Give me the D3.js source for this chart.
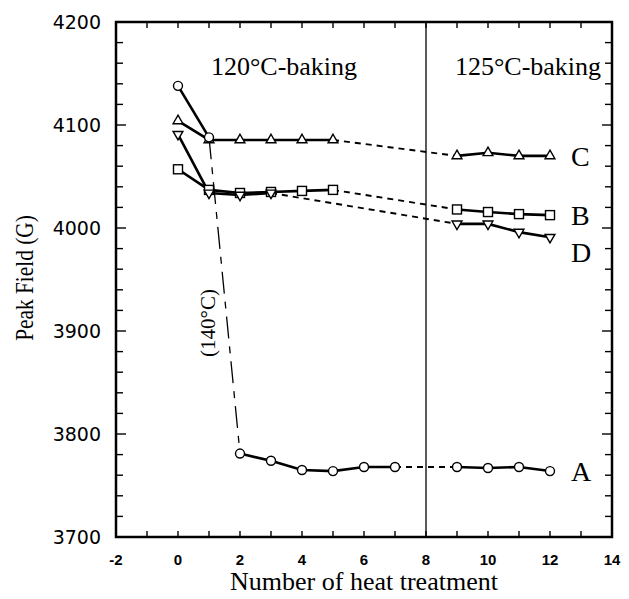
<!DOCTYPE html>
<html>
<head>
<meta charset="utf-8">
<script src="https://cdn.jsdelivr.net/npm/d3@7"></script>
<style>
  html, body { margin: 0; padding: 0; background: #fff; }
  svg { display: block; }
</style>
</head>
<body>
<svg id="chart" width="629" height="599"></svg>
<script>
// heat treatment index for each series
const xA = [0, 1, 2, 3, 4, 5, 6, 7, 9, 10, 11, 12]
const yA = [4138, 4088, 3781, 3774, 3765, 3764, 3768, 3768, 3768, 3767, 3768, 3764]
const xB = [0, 1, 2, 3, 4, 5, 9, 10, 11, 12]
const yB = [4057, 4037, 4034, 4035, 4036, 4037, 4018, 4015.5, 4013.5, 4012.5]
const xC = [0, 1, 2, 3, 4, 5, 9, 10, 11, 12]
const yC = [4104, 4085.5, 4085.5, 4085.5, 4085.5, 4085.5, 4070, 4073, 4070, 4070]
const xD = [0, 1, 2, 3, 9, 10, 11, 12]
const yD = [4091, 4034, 4032, 4034, 4004, 4004, 3996, 3991]

const xTicks = [-2, 0, 2, 4, 6, 8, 10, 12, 14]
const yTicks = [3700, 3800, 3900, 4000, 4100, 4200]

const svg = d3.select('#chart')
const margin = { left: 116, right: 17, top: 22, bottom: 62 }
const W = 629, H = 599

const x = d3.scaleLinear().domain([-2, 14]).range([margin.left, W - margin.right])
const y = d3.scaleLinear().domain([3700, 4200]).range([H - margin.bottom, margin.top])

const serif = 'Liberation Serif, Times New Roman, serif'
const sans = 'DejaVu Sans, Verdana, sans-serif'

// 枠内の目盛り（内向き）
const tickLen = 6
const g = svg.append('g')

const minorX = d3.range(-1, 14, 1)
minorX.forEach(v => {
  g.append('line').attr('x1', x(v)).attr('x2', x(v))
    .attr('y1', y(3700)).attr('y2', y(3700) - tickLen)
    .attr('stroke', '#000').attr('stroke-width', 1.4)
  g.append('line').attr('x1', x(v)).attr('x2', x(v))
    .attr('y1', y(4200)).attr('y2', y(4200) + tickLen)
    .attr('stroke', '#000').attr('stroke-width', 1.4)
})
const minorY = d3.range(3720, 4200, 20)
minorY.forEach(v => {
  const major = v % 100 === 0
  const len = major ? 10 : 7
  g.append('line').attr('x1', x(-2)).attr('x2', x(-2) + len)
    .attr('y1', y(v)).attr('y2', y(v))
    .attr('stroke', '#000').attr('stroke-width', 1.4)
  g.append('line').attr('x1', x(14)).attr('x2', x(14) - len)
    .attr('y1', y(v)).attr('y2', y(v))
    .attr('stroke', '#000').attr('stroke-width', 1.4)
})

// frame
svg.append('rect')
  .attr('x', x(-2)).attr('y', y(4200))
  .attr('width', x(14) - x(-2)).attr('height', y(3700) - y(4200))
  .attr('fill', 'none').attr('stroke', '#000').attr('stroke-width', 2.5)

// 120°C / 125°C 境界線
svg.append('line')
  .attr('x1', x(8)).attr('x2', x(8))
  .attr('y1', y(4200)).attr('y2', y(3700))
  .attr('stroke', '#000').attr('stroke-width', 1.3)

// tick labels
svg.append('g').selectAll('text').data(xTicks).enter().append('text')
  .attr('x', d => x(d)).attr('y', y(3700) + 28)
  .attr('text-anchor', 'middle')
  .attr('font-family', 'Liberation Sans, Arial, sans-serif')
  .attr('font-weight', 'bold').attr('font-size', 15)
  .text(d => String(d))

svg.append('g').selectAll('text').data(yTicks).enter().append('text')
  .attr('x', x(-2) - 15).attr('y', d => y(d))
  .attr('dy', '0.36em')
  .attr('text-anchor', 'end')
  .attr('font-family', sans).attr('font-size', 19)
  .text(d => String(d))

// axis titles
svg.append('text')
  .attr('x', (x(-2) + x(14)) / 2).attr('y', 590)
  .attr('text-anchor', 'middle')
  .attr('font-family', serif).attr('font-size', 26)
  .text('Number of heat treatment')

svg.append('text')
  .attr('transform', 'translate(33,278) rotate(-90) scale(0.82,1)')
  .attr('text-anchor', 'middle')
  .attr('font-family', serif).attr('font-size', 26)
  .text('Peak Field (G)')

// region titles
svg.append('text')
  .attr('x', 284).attr('y', 75)
  .attr('text-anchor', 'middle')
  .attr('font-family', serif).attr('font-size', 26)
  .text('120°C-baking')
svg.append('text')
  .attr('x', 528).attr('y', 75)
  .attr('text-anchor', 'middle')
  .attr('font-family', serif).attr('font-size', 26)
  .text('125°C-baking')

svg.append('text')
  .attr('transform', 'translate(215,323) rotate(-90)')
  .attr('text-anchor', 'middle')
  .attr('font-family', serif).attr('font-size', 21)
  .text('(140°C)')

const line = d3.line().x(d => x(d[0])).y(d => y(d[1]))
const pts = (xs, ys) => xs.map((v, i) => [v, ys[i]])

const A = pts(xA, yA), B = pts(xB, yB), C = pts(xC, yC), D = pts(xD, yD)

// segments: [points, style]
const solid = { w: 2.6, dash: null }
const dashed = { w: 1.9, dash: '6,5' }
const dashDot = { w: 1.3, dash: '22,8,7,8' }

const segments = [
  [A.slice(0, 2), solid], [A.slice(1, 3), dashDot], [A.slice(2, 8), solid],
  [A.slice(7, 9), dashed], [A.slice(8), solid],
  [B.slice(0, 6), solid], [B.slice(5, 7), dashed], [B.slice(6), solid],
  [C.slice(0, 6), solid], [C.slice(5, 7), dashed], [C.slice(6), solid],
  [D.slice(0, 4), solid], [D.slice(3, 5), dashed], [D.slice(4), solid]
]

svg.append('g').selectAll('path').data(segments).enter().append('path')
  .attr('d', d => line(d[0]))
  .attr('fill', 'none').attr('stroke', '#000')
  .attr('stroke-width', d => d[1].w)
  .attr('stroke-dasharray', d => d[1].dash)

// markers
const mk = svg.append('g').attr('fill', '#fff').attr('stroke', '#000').attr('stroke-width', 1.4)
mk.selectAll('.sq').data(B).enter().append('rect')
  .attr('x', d => x(d[0]) - 4.5).attr('y', d => y(d[1]) - 4.5)
  .attr('width', 9).attr('height', 9)
const tri = d3.symbol().type(d3.symbolTriangle).size(42)
mk.selectAll('.up').data(C).enter().append('path')
  .attr('d', tri)
  .attr('transform', d => `translate(${x(d[0])},${y(d[1])})`)
mk.selectAll('.dn').data(D).enter().append('path')
  .attr('d', tri)
  .attr('transform', d => `translate(${x(d[0])},${y(d[1])}) rotate(180)`)
mk.selectAll('.ci').data(A).enter().append('circle')
  .attr('cx', d => x(d[0])).attr('cy', d => y(d[1])).attr('r', 4.5)

// series labels
const labels = [['A', A], ['B', B], ['C', C], ['D', D]]
svg.append('g').selectAll('text').data(labels).enter().append('text')
  .attr('x', d => x(d[1][d[1].length - 1][0]) + 21)
  .attr('y', d => y(d[1][d[1].length - 1][1]) + (d[0] === 'D' ? 15 : 0))
  .attr('dy', '0.35em')
  .attr('font-family', serif).attr('font-size', 28)
  .text(d => d[0])
</script>
</body>
</html>
